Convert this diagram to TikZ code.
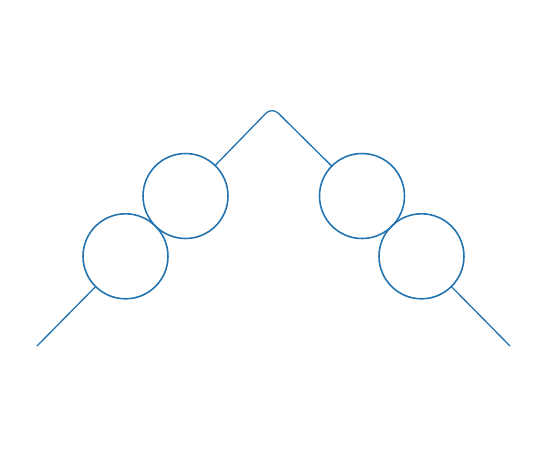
\documentclass[tikz,border=0pt]{standalone}
\usetikzlibrary{calc}
\definecolor{LineClr}{HTML}{2273B0}

\begin{document}
\begin{tikzpicture}[x=0.02cm,y=-0.02cm]
\tikzset{ringnode/.style={draw=LineClr,circle,line width=0.9pt,minimum size=1.7cm,inner sep=0pt,outer sep=0pt},
  wire/.style={draw=LineClr,line width=0.75pt,line cap=round}}
\useasboundingbox (0,0) rectangle (542,458);

\node[ringnode] (LL) at (125.5,256.3) {};
\node[ringnode] (UL) at (185.5,196) {};
\node[ringnode] (UR) at (362,196) {};
\node[ringnode] (LR) at (421.5,256.3) {};

\coordinate (L) at (37,346);
\coordinate (Top) at (272,107);
\coordinate (R) at (510,346);

\draw[wire] (L) -- (LL);
\draw[wire,rounded corners=5pt] (UL) -- (Top) -- (UR);
\draw[wire] (LR) -- (R);

\end{tikzpicture}
\end{document}
